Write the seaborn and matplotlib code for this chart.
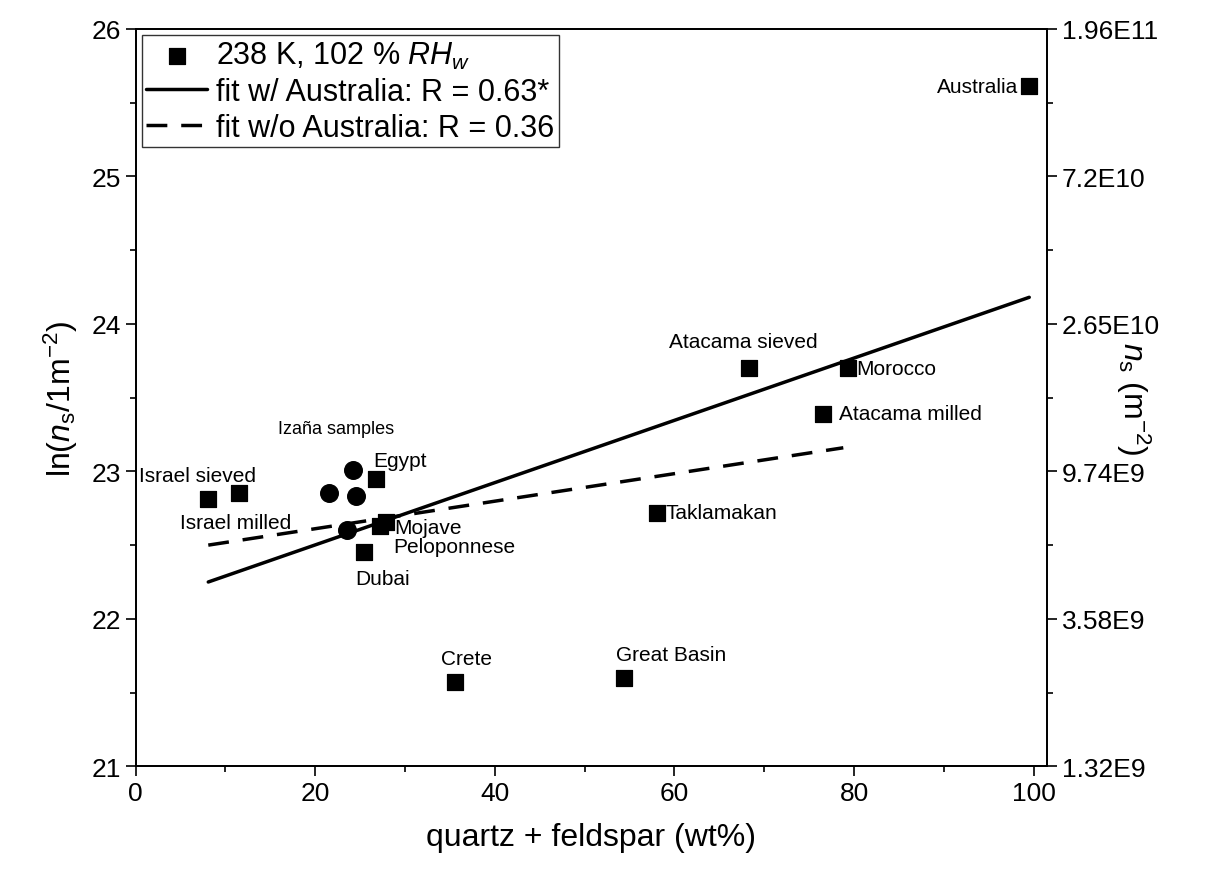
import numpy as np
import pandas as pd
import matplotlib
matplotlib.use('Agg')
import matplotlib.pyplot as plt
import seaborn as sns

sns.set_style('ticks')
plt.rcParams['font.family'] = ['Liberation Sans', 'DejaVu Sans']
plt.rcParams['mathtext.fontset'] = 'custom'
plt.rcParams['mathtext.rm'] = 'Liberation Sans'
plt.rcParams['mathtext.it'] = 'Liberation Sans:italic'
for k in ['text.color', 'axes.labelcolor', 'xtick.color', 'ytick.color', 'axes.edgecolor']:
    plt.rcParams[k] = 'black'

# data: quartz + feldspar (wt%) vs ln(ns)
names = ['Australia', 'Atacama sieved', 'Morocco', 'Atacama milled', 'Taklamakan',
         'Great Basin', 'Crete', 'Egypt', 'Mojave', 'Peloponnese', 'Dubai',
         'Israel sieved', 'Israel milled']
qf = [99.5, 68.3, 79.3, 76.5, 58.1, 54.4, 35.6, 26.8, 27.9, 27.2, 25.4, 11.5, 8.1]
ln_ns = [25.61, 23.70, 23.70, 23.39, 22.72, 21.60, 21.57, 22.95, 22.66, 22.63, 22.45, 22.85, 22.81]

izana_qf = [24.2, 21.5, 24.5, 23.6]
izana_ln = [23.01, 22.85, 22.83, 22.60]

fit_all_x = [8.1, 99.5]
fit_all_y = [22.25, 24.18]
fit_noaus_x = [8.1, 78.8]
fit_noaus_y = [22.50, 23.16]

right_ticks = [21, 22, 23, 24, 25, 26]
right_labels = ['1.32E9', '3.58E9', '9.74E9', '2.65E10', '7.2E10', '1.96E11']

df = pd.DataFrame({'name': names, 'qf': qf, 'ln': ln_ns})

fig = plt.figure(figsize=(12.32, 8.78), dpi=100)
ax = fig.add_axes([0.11, 0.126, 0.74, 0.84])

sns.scatterplot(data=df, x='qf', y='ln', marker='s', s=120, color='black',
                edgecolor='black', ax=ax, label='238 K, 102 % $RH_w$', zorder=3)
sns.scatterplot(x=izana_qf, y=izana_ln, marker='o', s=160, color='black',
                edgecolor='black', ax=ax, zorder=3)
sns.lineplot(x=fit_all_x, y=fit_all_y, color='black', lw=2.5, ax=ax,
             label='fit w/ Australia: R = 0.63*')
sns.lineplot(x=fit_noaus_x, y=fit_noaus_y, color='black', lw=2.5, ax=ax,
             linestyle=(0, (6, 4)), label='fit w/o Australia: R = 0.36')

offsets = {
    'Australia': (-8, 0, 'right', 'center'),
    'Atacama sieved': (-4, 12, 'center', 'bottom'),
    'Morocco': (6, 0, 'left', 'center'),
    'Atacama milled': (12, 0, 'left', 'center'),
    'Taklamakan': (6, 0, 'left', 'center'),
    'Great Basin': (-6, 10, 'left', 'bottom'),
    'Crete': (-10, 10, 'left', 'bottom'),
    'Egypt': (-2, 6, 'left', 'bottom'),
    'Mojave': (6, -4, 'left', 'center'),
    'Peloponnese': (10, -15, 'left', 'center'),
    'Dubai': (-6, -12, 'left', 'top'),
    'Israel sieved': (-30, 6, 'center', 'bottom'),
    'Israel milled': (-20, -10, 'left', 'top'),
}
for n, x, y in zip(names, qf, ln_ns):
    dx, dy, ha, va = offsets[n]
    ax.annotate(n, (x, y), xytext=(dx, dy), textcoords='offset points',
                ha=ha, va=va, fontsize=15)
ax.annotate('Izaña samples', (izana_qf[0], izana_ln[0]), xytext=(-12, 24),
            textcoords='offset points', ha='center', va='bottom', fontsize=13)

ax.set_xlim(0, 101.5)
ax.set_ylim(21, 26)
ax.set_xticks(range(0, 101, 20))
ax.set_xticks(range(10, 101, 20), minor=True)
ax.set_yticks(right_ticks)
ax.set_yticks(np.arange(21.5, 26, 1), minor=True)
ax.tick_params(which='major', length=7, width=1.2, labelsize=19)
ax.tick_params(which='minor', length=4, width=1.2)
ax.set_xlabel('quartz + feldspar (wt%)', fontsize=23, labelpad=12)
ax.set_ylabel('ln($n_\\mathrm{s}$/1m$^{\\mathrm{-2}}$)', fontsize=23, labelpad=8)
for s in ax.spines.values():
    s.set_linewidth(1.3)

ax2 = ax.twinx()
ax2.set_ylim(21, 26)
ax2.set_yticks(right_ticks)
ax2.set_yticklabels(right_labels)
ax2.set_yticks(np.arange(21.5, 26, 1), minor=True)
ax2.tick_params(which='major', length=7, width=1.2, labelsize=19)
ax2.tick_params(which='minor', length=4, width=1.2)
ax2.set_ylabel('$n_\\mathrm{s}$ (m$^{\\mathrm{-2}}$)', fontsize=23, rotation=270)
ax2.yaxis.set_label_coords(1.115, 0.5)
for s in ax2.spines.values():
    s.set_linewidth(1.3)

leg = ax.legend(loc='upper left', fontsize=22, frameon=True, fancybox=False,
                edgecolor='black', borderaxespad=0.2, handlelength=2.0,
                handletextpad=0.3, borderpad=0.15, labelspacing=0.2)
leg.get_frame().set_linewidth(1.0)

fig.savefig('out.png', dpi=100)
